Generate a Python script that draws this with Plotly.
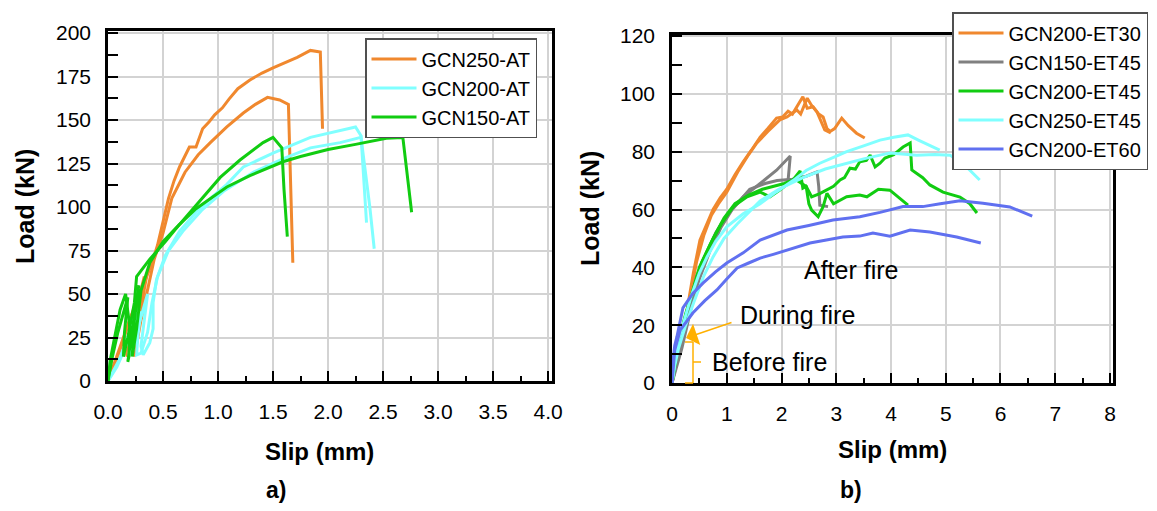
import plotly.graph_objects as go

# Page has an 8px body margin; the figure is sized to fill the rest of the 1157x511 window.
PAGE_W, PAGE_H, OFF = 1157, 511, 8
W, H = PAGE_W - 2 * OFF, PAGE_H - 2 * OFF

# ---------------- Panel a) data (Slip mm, Load kN) ----------------
gcn250_at_1_x = [0, 0.10, 0.18, 0.26, 0.30, 0.24, 0.19, 0.17, 0.22, 0.29, 0.33, 0.28, 0.23, 0.21, 0.27, 0.34, 0.40, 0.45, 0.50, 0.55, 0.60, 0.65, 0.74, 0.80, 0.86, 0.92, 0.97, 1.04, 1.10, 1.18, 1.29, 1.40, 1.50, 1.61, 1.72, 1.84, 1.93, 1.95]
gcn250_at_1_y = [0, 18, 32, 45, 52, 30, 16, 14, 30, 50, 60, 40, 22, 18, 40, 58, 68, 78, 92, 105, 115, 123, 134.5, 134.5, 145, 149, 153, 157, 162, 168, 173, 177, 180, 183, 186, 190, 189, 145]
gcn250_at_2_x = [0, 0.08, 0.16, 0.24, 0.28, 0.22, 0.17, 0.20, 0.27, 0.35, 0.30, 0.25, 0.24, 0.30, 0.37, 0.42, 0.50, 0.58, 0.70, 0.82, 0.93, 1.08, 1.23, 1.34, 1.45, 1.56, 1.64, 1.68]
gcn250_at_2_y = [0, 12, 28, 42, 50, 25, 15, 28, 45, 60, 42, 20, 14, 35, 55, 70, 85, 105, 120, 130, 137, 146, 154, 159, 163, 161.5, 159, 68]

gcn200_at_1_x = [0, 0.08, 0.15, 0.22, 0.28, 0.24, 0.22, 0.26, 0.32, 0.36, 0.33, 0.30, 0.32, 0.38, 0.41, 0.41, 0.44, 0.52, 0.65, 0.80, 0.95, 1.08, 1.23, 1.50, 1.84, 2.11, 2.25, 2.30, 2.33, 2.35]
gcn200_at_1_y = [0, 8, 18, 30, 42, 25, 16, 28, 42, 50, 35, 20, 15, 22, 30, 45, 58, 72, 86, 97, 106, 113, 123, 131, 140, 144, 146, 141, 110, 91]
gcn200_at_2_x = [0, 0.10, 0.18, 0.24, 0.20, 0.19, 0.25, 0.30, 0.27, 0.26, 0.30, 0.36, 0.40, 0.45, 0.55, 0.68, 0.85, 1.05, 1.32, 1.60, 1.84, 2.11, 2.30, 2.34, 2.38, 2.42]
gcn200_at_2_y = [0, 12, 25, 38, 22, 14, 28, 40, 25, 15, 16, 28, 45, 60, 75, 86, 98, 109, 120, 128, 134, 137, 140, 120, 100, 76]

gcn150_at_1_x = [0, 0.02, 0.06, 0.11, 0.16, 0.20, 0.19, 0.18, 0.21, 0.26, 0.28, 0.24, 0.22, 0.26, 0.30, 0.38, 0.50, 0.65, 0.84, 1.02, 1.20, 1.41, 1.50, 1.58, 1.60, 1.63]
gcn150_at_1_y = [0, 12, 25, 41, 50, 30, 14, 11, 25, 45, 55, 35, 14, 30, 52, 68, 80, 90, 104, 117, 127, 137, 140, 134, 110, 83]
gcn150_at_2_x = [0, 0.04, 0.09, 0.14, 0.18, 0.15, 0.14, 0.18, 0.24, 0.26, 0.38, 0.52, 0.65, 0.80, 0.93, 1.08, 1.29, 1.59, 1.75, 2.00, 2.25, 2.53, 2.68, 2.72, 2.76]
gcn150_at_2_y = [0, 14, 28, 40, 48, 28, 14, 25, 45, 60, 70, 80, 90, 99, 105, 111.5, 118, 126, 129, 133, 136, 139.5, 140, 118, 97]

# ---------------- Panel b) data ----------------
gcn200_et30_1_x = [0, 0.10, 0.20, 0.30, 0.39, 0.51, 0.63, 0.75, 0.88, 1.00, 1.15, 1.30, 1.45, 1.61, 1.75, 1.91, 2.02, 2.12, 2.20, 2.30, 2.39, 2.47, 2.58, 2.68, 2.76, 2.83, 2.89, 2.97, 3.10, 3.22, 3.37, 3.52]
gcn200_et30_1_y = [0, 8, 17, 28, 38, 49.4, 55, 60, 64, 67, 72, 76.5, 80.5, 85, 88, 91.6, 92, 94, 93, 96, 99, 95, 95.5, 93, 92, 88, 87, 88, 91.6, 89, 86.4, 84.7]
gcn200_et30_2_x = [0, 0.12, 0.25, 0.35, 0.45, 0.58, 0.72, 0.85, 1.00, 1.20, 1.40, 1.55, 1.75, 1.97, 2.10, 2.28, 2.35, 2.47, 2.55, 2.65, 2.79, 2.90]
gcn200_et30_2_y = [0, 10, 22, 32, 42, 51, 58, 62, 66, 73, 79, 83, 87, 91, 92, 94.4, 93, 98.5, 96, 93.7, 87.5, 86.5]

gcn150_et45_1_x = [0, 0.15, 0.30, 0.45, 0.64, 0.80, 1.00, 1.30, 1.61, 1.91, 2.16, 2.14, 2.12]
gcn150_et45_1_y = [0, 12, 25, 37, 45, 52, 58, 64.4, 69, 73.6, 78.5, 74, 70]
gcn150_et45_2_x = [0, 0.18, 0.35, 0.50, 0.70, 0.90, 1.10, 1.42, 1.70, 1.92, 2.20, 2.45, 2.65, 2.68, 2.70, 2.85]
gcn150_et45_2_y = [0, 12, 26, 36, 46, 54, 60, 67, 69, 70, 70.5, 71.5, 73, 68, 61.5, 61]

gcn200_et45_1_x = [0, 0.10, 0.20, 0.35, 0.50, 0.70, 0.90, 1.12, 1.37, 1.61, 1.79, 1.97, 2.21, 2.34, 2.39, 2.45, 2.55, 2.70, 2.83, 2.95, 3.07, 3.15, 3.25, 3.35, 3.43, 3.55, 3.62, 3.71, 3.80, 3.89, 4.05, 4.22, 4.35, 4.38, 4.58, 4.71, 4.95, 5.26, 5.44, 5.57]
gcn200_et45_1_y = [0, 12, 20, 30, 40, 48, 55, 61, 64.4, 66, 64.4, 66.7, 70.2, 73.3, 67.4, 68, 64.4, 65.5, 66.7, 68, 70.2, 71, 74.3, 74, 76.5, 77, 78.8, 74.7, 76, 77.8, 79, 81.6, 83, 73.7, 71, 68.5, 66, 64.3, 62, 58.8]
gcn200_et45_2_x = [0, 0.12, 0.25, 0.40, 0.55, 0.75, 0.95, 1.15, 1.40, 1.65, 1.85, 2.05, 2.25, 2.45, 2.50, 2.55, 2.67, 2.76, 2.83, 2.95, 3.19, 3.43, 3.56, 3.77, 3.98, 4.15, 4.31]
gcn200_et45_2_y = [0, 14, 24, 33, 42, 50, 57, 62, 65, 67, 68, 69, 70.5, 68, 62, 59.8, 57.5, 61, 65.6, 62, 64.4, 65, 64.4, 67, 66.7, 64, 61.5]

gcn250_et45_1_x = [0, 0.05, 0.10, 0.20, 0.35, 0.50, 0.64, 0.80, 1.00, 1.30, 1.61, 1.90, 2.21, 2.45, 2.70, 2.95, 3.19, 3.50, 3.80, 4.05, 4.31, 4.50, 4.68, 4.89]
gcn250_et45_1_y = [0, 8, 14, 20, 30, 38, 43.6, 49, 54, 58.5, 62, 66, 70, 73.5, 76, 78, 80, 82, 84, 85, 85.8, 84, 82.3, 80.5]
gcn250_et45_2_x = [0, 0.05, 0.12, 0.25, 0.40, 0.58, 0.75, 0.95, 1.19, 1.40, 1.61, 1.95, 2.39, 2.80, 3.19, 3.50, 3.80, 3.98, 4.47, 4.80, 5.08, 5.38, 5.62]
gcn250_et45_2_y = [0, 6, 12, 20, 28, 37, 43.6, 50, 55, 59, 63, 67, 71, 74, 76, 77.5, 78.8, 79.5, 78.8, 79, 78.8, 74.7, 70.2]

gcn200_et60_1_x = [0, 0.02, 0.05, 0.09, 0.20, 0.38, 0.57, 0.69, 0.80, 1.00, 1.30, 1.61, 1.85, 2.10, 2.50, 2.94, 3.43, 3.80, 4.22, 4.58, 4.90, 5.26, 5.68, 6.17, 6.58]
gcn200_et60_1_y = [0, 8, 13, 16, 26, 31, 34.6, 36.7, 38.5, 41.5, 45, 49.4, 51, 52.9, 54.5, 56.4, 57.5, 59, 61, 61, 62, 63, 62.2, 60.9, 57.7]
gcn200_et60_2_x = [0, 0.03, 0.05, 0.15, 0.38, 0.60, 0.82, 1.00, 1.19, 1.40, 1.61, 1.85, 2.10, 2.52, 3.12, 3.43, 3.67, 3.98, 4.35, 4.71, 5.20, 5.64]
gcn200_et60_2_y = [0, 7, 11.4, 18.3, 24.2, 28.5, 32.2, 36, 39.8, 41.5, 43.2, 44.5, 46, 48.4, 50.5, 50.8, 51.9, 50.8, 52.9, 52.2, 50.5, 48.4]

left_series = [
    ("GCN250-AT", "#F0882E", (gcn250_at_1_x, gcn250_at_1_y), (gcn250_at_2_x, gcn250_at_2_y)),
    ("GCN200-AT", "#80FFFF", (gcn200_at_1_x, gcn200_at_1_y), (gcn200_at_2_x, gcn200_at_2_y)),
    ("GCN150-AT", "#11CC11", (gcn150_at_1_x, gcn150_at_1_y), (gcn150_at_2_x, gcn150_at_2_y)),
]
right_series = [
    ("GCN200-ET30", "#F0882E", (gcn200_et30_1_x, gcn200_et30_1_y), (gcn200_et30_2_x, gcn200_et30_2_y)),
    ("GCN150-ET45", "#808080", (gcn150_et45_1_x, gcn150_et45_1_y), (gcn150_et45_2_x, gcn150_et45_2_y)),
    ("GCN200-ET45", "#11CC11", (gcn200_et45_1_x, gcn200_et45_1_y), (gcn200_et45_2_x, gcn200_et45_2_y)),
    ("GCN250-ET45", "#80FFFF", (gcn250_et45_1_x, gcn250_et45_1_y), (gcn250_et45_2_x, gcn250_et45_2_y)),
    ("GCN200-ET60", "#6070F0", (gcn200_et60_1_x, gcn200_et60_1_y), (gcn200_et60_2_x, gcn200_et60_2_y)),
]

FONT = "Arial, Liberation Sans, sans-serif"
fig = go.Figure()

def add(series, xa, ya, leg):
    for name, color, s1, s2 in series:
        xs = list(s1[0]) + [None] + list(s2[0])
        ys = list(s1[1]) + [None] + list(s2[1])
        fig.add_trace(go.Scatter(x=xs, y=ys, mode="lines", name=name, xaxis=xa, yaxis=ya,
                                 legend=leg, connectgaps=False,
                                 line=dict(color=color, width=3)))

add(left_series, "x", "y", "legend")
add(right_series, "x2", "y2", "legend2")

# convert page pixel positions to paper fractions
def px(v):
    return (v - OFF) / W

def py(v):
    return 1 - (v - OFF) / H

axis_common = dict(showline=True, linecolor="black", linewidth=2.5, mirror=True,
                   ticks="inside", tickcolor="black", tickwidth=2, ticklen=10,
                   showgrid=True, gridcolor="#D3D3D3", gridwidth=1.5, zeroline=False,
                   tickfont=dict(family=FONT, size=21, color="black"),
                   ticklabelstandoff=10)

fig.update_layout(
    width=W, height=H, margin=dict(l=0, r=0, t=0, b=0, autoexpand=False),
    paper_bgcolor="white", plot_bgcolor="white", showlegend=True,
    xaxis=dict(domain=[px(108), px(552)], range=[0, 4.036], dtick=0.5, tickformat=".1f",
               minor=dict(dtick=0.25, ticks="inside", ticklen=5, tickwidth=2, tickcolor="black", showgrid=False),
               anchor="y", **axis_common),
    yaxis=dict(domain=[py(381), py(31)], range=[0, 201.15], dtick=25,
               minor=dict(dtick=12.5, ticks="inside", ticklen=10, tickwidth=2, tickcolor="black", showgrid=False),
               anchor="x", **axis_common),
    xaxis2=dict(domain=[px(672), px(1113)], range=[0, 8.055], dtick=1,
                minor=dict(dtick=0.5, ticks="inside", ticklen=5, tickwidth=2, tickcolor="black", showgrid=False),
                anchor="y2", **axis_common),
    yaxis2=dict(domain=[py(383), py(35)], range=[0, 120.35], dtick=20,
                minor=dict(dtick=10, ticks="inside", ticklen=10, tickwidth=2, tickcolor="black", showgrid=False),
                anchor="x2", **axis_common),
    legend=dict(x=px(365), y=py(38), xanchor="left", yanchor="top", itemwidth=45,
                bgcolor="white", bordercolor="#505050", borderwidth=1.5,
                font=dict(family=FONT, size=20, color="black"), tracegroupgap=0),
    legend2=dict(x=px(952), y=py(12), xanchor="left", yanchor="top", itemwidth=45,
                 bgcolor="white", bordercolor="#505050", borderwidth=1.5,
                 font=dict(family=FONT, size=20, color="black"), tracegroupgap=0),
)

def text(x, y, s, size, bold=False, angle=0):
    fig.add_annotation(x=px(x), y=py(y), xref="paper", yref="paper", text=f"<b>{s}</b>" if bold else s,
                       showarrow=False, xanchor="center", yanchor="middle", textangle=angle,
                       font=dict(family=FONT, size=size, color="black"))

text(319, 451, "Slip (mm)", 24, bold=True)
text(892, 449, "Slip (mm)", 24, bold=True)
text(25, 207, "Load (kN)", 25, bold=True, angle=-90)
text(590, 209, "Load (kN)", 25, bold=True, angle=-90)
text(276, 490, "a)", 23, bold=True)
text(851, 490, "b)", 23, bold=True)
text(851, 270, "After fire", 25)
text(797, 315, "During fire", 25)
text(769, 362, "Before fire", 25)

AMBER = "#FFB000"
# arrow for "During fire"
fig.add_annotation(x=px(686), y=py(338), xref="paper", yref="paper", text="",
                   showarrow=True, ax=47, ay=-16, arrowcolor=AMBER, arrowwidth=1.5,
                   arrowhead=1, arrowsize=2.5)
# bracket for "Before fire"
bx, bl, br = 693, 685, 701
btop, bbot, bmid = 342, 383, 362
for (x0, y0, x1, y1) in [(bx, btop, bx, bbot), (bl, btop, bx, btop), (bl, bbot, bx, bbot), (bx, bmid, br, bmid)]:
    fig.add_shape(type="line", xref="paper", yref="paper", x0=px(x0), y0=py(y0), x1=px(x1), y1=py(y1),
                  line=dict(color=AMBER, width=1.5))

fig.write_html("out.html")
